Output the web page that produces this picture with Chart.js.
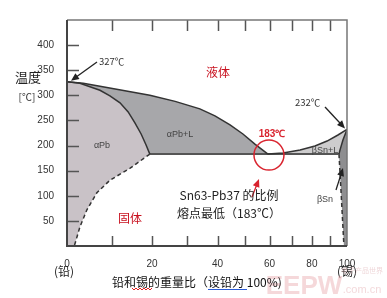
<!DOCTYPE html>
<html>
<head>
<meta charset="utf-8">
<script src="https://cdn.jsdelivr.net/npm/chart.js@4/dist/chart.umd.min.js"></script>
<style>
  html, body { margin: 0; padding: 0; background: #fff; }
  #wrap { width: 387px; height: 298px; }
</style>
</head>
<body>
<div id="wrap"><canvas id="phaseChart"></canvas></div>
<script>
// axis ticks
const yTicks = [50, 100, 150, 200, 250, 300, 350, 400];
const xLabels = [0, 20, 40, 60, 80, 100];
const xMinor = [10, 20, 30, 40, 50, 60, 70, 80, 90];

// phase boundaries, [wt% Sn, temperature C]
const eutecticT = 183;
const liquidusPb = [[0, 327], [3.4, 324], [7.1, 318], [13.0, 309], [19.4, 300], [26.5, 288], [34.1, 273],
  [39.1, 259], [44.4, 241], [49.2, 223], [53.9, 203], [59.3, 183]];
const solidusPb = [[0, 327], [2.7, 324], [7.1, 310], [9.4, 299], [11.8, 285], [13.8, 267], [15.5, 245],
  [17.1, 223], [18.4, 201], [19.4, 183]];
const solvusPb = [[19.4, 183], [14.3, 155], [9.4, 131], [6.4, 106], [4.2, 72], [2.7, 38], [1.7, 6], [1.5, 0]];
const liquidusSn = [[59.3, 183], [65.9, 185], [74.0, 191], [81.6, 199], [88.2, 209], [94.5, 221], [100, 232]];
const solidusSn = [[100, 232], [97.5, 211], [95.7, 191], [95.1, 183]];
const solvusSn = [[95.1, 183], [96.3, 111], [98.1, 0]];

// x axis is drawn in atomic %, labelled in weight %
const M_PB = 207.2, M_SN = 118.71;
const toAtomic = w => { const a = w / M_SN, b = (100 - w) / M_PB; return 100 * a / (a + b); };
const toWeight = p => { const a = p * M_SN, b = (100 - p) * M_PB; return 100 * a / (a + b); };

class WeightScale extends Chart.LinearScale {
  getPixelForValue(v) { return super.getPixelForValue(toAtomic(v)); }
  getValueForPixel(px) { return toWeight(super.getValueForPixel(px)); }
}
WeightScale.id = 'weight';
WeightScale.defaults = Chart.LinearScale.defaults;
Chart.register(WeightScale);

const pts = arr => arr.map(([x, y]) => ({x, y}));

const eutecticLine = [[solidusPb[solidusPb.length - 1][0], eutecticT], [solidusSn[solidusSn.length - 1][0], eutecticT]];

// closed regions
const regionAlphaPb = [[0, 0], ...solidusPb, ...solvusPb.slice(1), [0, 0]];
const regionAlphaL = [...liquidusPb, ...solidusPb.slice().reverse()];
const regionBetaL = [...liquidusSn, ...solidusSn.slice(1), liquidusSn[0]];
const regionBetaSn = [...solidusSn, ...solvusSn.slice(1), [100, 0], [100, 232]];

const lineDs = (data, extra) => Object.assign({
  data: pts(data), showLine: true, pointRadius: 0, borderColor: '#333', borderWidth: 1.5, fill: false, tension: 0
}, extra);
const areaDs = (data, color) => ({
  data: pts(data), showLine: true, pointRadius: 0, borderWidth: 0, borderColor: 'rgba(0,0,0,0)',
  backgroundColor: color, fill: 'shape', tension: 0
});

function arrow(ctx, x1, y1, x2, y2, color) {
  const ang = Math.atan2(y2 - y1, x2 - x1), L = 8, W = 3.5;
  ctx.strokeStyle = color; ctx.fillStyle = color; ctx.lineWidth = 1.3;
  ctx.beginPath(); ctx.moveTo(x1, y1);
  ctx.lineTo(x2 - Math.cos(ang) * L * 0.8, y2 - Math.sin(ang) * L * 0.8); ctx.stroke();
  ctx.beginPath();
  ctx.moveTo(x2, y2);
  ctx.lineTo(x2 - L * Math.cos(ang) + W * Math.sin(ang), y2 - L * Math.sin(ang) - W * Math.cos(ang));
  ctx.lineTo(x2 - L * Math.cos(ang) - W * Math.sin(ang), y2 - L * Math.sin(ang) + W * Math.cos(ang));
  ctx.closePath(); ctx.fill();
}

function text(ctx, s, x, y, font, color, align) {
  ctx.font = font; ctx.fillStyle = color; ctx.textAlign = align || 'center'; ctx.textBaseline = 'middle';
  ctx.fillText(s, x, y);
}

const CJK = '"Noto Sans CJK SC", "Liberation Sans", sans-serif';
const SANS = '"Liberation Sans", Arial, sans-serif';

const decor = {
  id: 'decor',
  afterDatasetsDraw(chart) {
    const {ctx, chartArea: a, scales: {x, y}} = chart;
    ctx.save();
    // inward tick marks
    ctx.strokeStyle = '#555'; ctx.lineWidth = 1.5;
    ctx.beginPath();
    yTicks.forEach(t => {
      const py = Math.round(y.getPixelForValue(t)) + 0.5;
      ctx.moveTo(a.left, py); ctx.lineTo(a.left + 12, py);
    });
    xMinor.forEach(t => {
      const px = Math.round(x.getPixelForValue(t)) + 0.5;
      ctx.moveTo(px, a.bottom); ctx.lineTo(px, a.bottom - 10);
      ctx.moveTo(px, a.top); ctx.lineTo(px, a.top + 11);
    });
    ctx.stroke();
    // frame
    ctx.strokeStyle = '#777'; ctx.lineWidth = 1.5;
    ctx.beginPath();
    ctx.moveTo(a.left, a.top); ctx.lineTo(a.right, a.top); ctx.lineTo(a.right, a.bottom);
    ctx.stroke();
    ctx.strokeStyle = '#444'; ctx.lineWidth = 2;
    ctx.beginPath();
    ctx.moveTo(a.left, a.top); ctx.lineTo(a.left, a.bottom); ctx.lineTo(a.right, a.bottom);
    ctx.stroke();

    // eutectic marker
    const ex = x.getPixelForValue(liquidusPb[liquidusPb.length - 1][0]);
    const ey = y.getPixelForValue(eutecticT);
    ctx.strokeStyle = '#d9232e'; ctx.lineWidth = 1.5;
    ctx.beginPath(); ctx.arc(ex + 1, ey + 1, 15, 0, Math.PI * 2); ctx.stroke();
    text(ctx, '183℃', ex + 4, ey - 20, 'bold 10px ' + SANS, '#d9232e');
    arrow(ctx, 252, 197, 259, 179, '#d9232e');

    // arrows to melting points
    const pbx = x.getPixelForValue(0), pby = y.getPixelForValue(327);
    arrow(ctx, 97, 62, pbx + 4, pby - 1, '#222');
    text(ctx, '327℃', 99, 61, '9.5px ' + CJK, '#333', 'left');
    const snx = x.getPixelForValue(100), sny = y.getPixelForValue(232);
    arrow(ctx, 325, 107, snx - 2, sny - 1, '#222');
    text(ctx, '232℃', 295, 102, '9.5px ' + CJK, '#333', 'left');
    arrow(ctx, 336, 190, 343, 168, '#222');

    // region labels
    text(ctx, '液体', 218, 72, '12px ' + CJK, '#c8101e');
    text(ctx, '固体', 130, 218, '12px ' + CJK, '#c8101e');
    text(ctx, 'αPb', 102, 146, '9px ' + SANS, '#444');
    text(ctx, 'αPb+L', 180, 135, '9px ' + SANS, '#444');
    text(ctx, 'βSn+L', 325, 151, '9px ' + SANS, '#444');
    text(ctx, 'βSn', 325, 200, '9px ' + SANS, '#444');
    text(ctx, 'Sn63-Pb37 的比例', 229, 195, '12px ' + CJK, '#222');
    text(ctx, '熔点最低（183℃）', 229, 213, '12px ' + CJK, '#222');

    // axis titles
    text(ctx, '温度', 28, 77, '13px ' + CJK, '#222');
    text(ctx, '[℃]', 27, 97, '10px ' + CJK, '#333');
    text(ctx, '(铅)', 64, 271, '12px ' + CJK, '#222');
    text(ctx, '(锡)', 347, 271, '12px ' + CJK, '#222');

    // watermark
    ctx.globalAlpha = 0.45;
    text(ctx, 'EEPW', 304, 287, 'bold 26px ' + SANS, '#e8a8ae');
    ctx.globalAlpha = 0.5;
    text(ctx, '电子产品世界', 362, 270, '7px ' + CJK, '#e0b0b4');
    text(ctx, '.com.cn', 362, 290, '11px ' + SANS, '#e8b4b8');
    ctx.globalAlpha = 1;

    text(ctx, '铅和锡的重量比（设铅为 100%)', 197, 282, '12px ' + CJK, '#111');
    // editor marks under the title
    ctx.strokeStyle = '#2b5cd6'; ctx.lineWidth = 1;
    ctx.beginPath(); ctx.moveTo(208, 289.5); ctx.lineTo(247, 289.5); ctx.stroke();
    ctx.strokeStyle = '#e02020'; ctx.beginPath();
    for (let px = 132; px <= 152; px += 2) ctx.lineTo(px, 289 + ((px / 2) % 2 ? 1 : -1));
    ctx.stroke();
    ctx.restore();
  }
};

new Chart(document.getElementById('phaseChart'), {
  type: 'scatter',
  data: {
    datasets: [
      lineDs(liquidusPb), lineDs(liquidusSn),
      lineDs(solidusPb), lineDs(solidusSn),
      lineDs(eutecticLine, {borderColor: '#555', borderWidth: 2}),
      lineDs(solvusPb, {borderDash: [4, 3]}),
      lineDs(solvusSn, {borderDash: [4, 3]}),
      areaDs(regionAlphaPb, '#c9c2c7'),
      areaDs(regionAlphaL, '#a7a7aa'),
      areaDs(regionBetaL, '#cdcccd'),
      areaDs(regionBetaSn, '#8e8e90')
    ]
  },
  options: {
    responsive: true,
    maintainAspectRatio: false,
    animation: false,
    layout: {padding: {top: 20, right: 40, left: 0, bottom: 0}},
    plugins: {legend: {display: false}, tooltip: {enabled: false}},
    scales: {
      x: {
        type: 'weight', min: 0, max: 100,
        grid: {display: false}, border: {display: false},
        afterFit: s => { s.height = 52; },
        afterBuildTicks: s => { s.ticks = [0, ...xMinor, 100].map(v => ({value: v})); },
        ticks: {
          autoSkip: false, maxRotation: 0, padding: 4, color: '#333',
          font: {family: SANS, size: 10},
          callback: v => xLabels.includes(v) ? String(v) : ''
        }
      },
      y: {
        min: 0, max: 450,
        grid: {display: false}, border: {display: false},
        afterFit: s => { s.width = 67; },
        ticks: {
          stepSize: 50, padding: 5, color: '#333',
          font: {family: SANS, size: 10},
          callback: v => yTicks.includes(v) ? String(v) : ''
        }
      }
    }
  },
  plugins: [decor]
});
</script>
</body>
</html>
